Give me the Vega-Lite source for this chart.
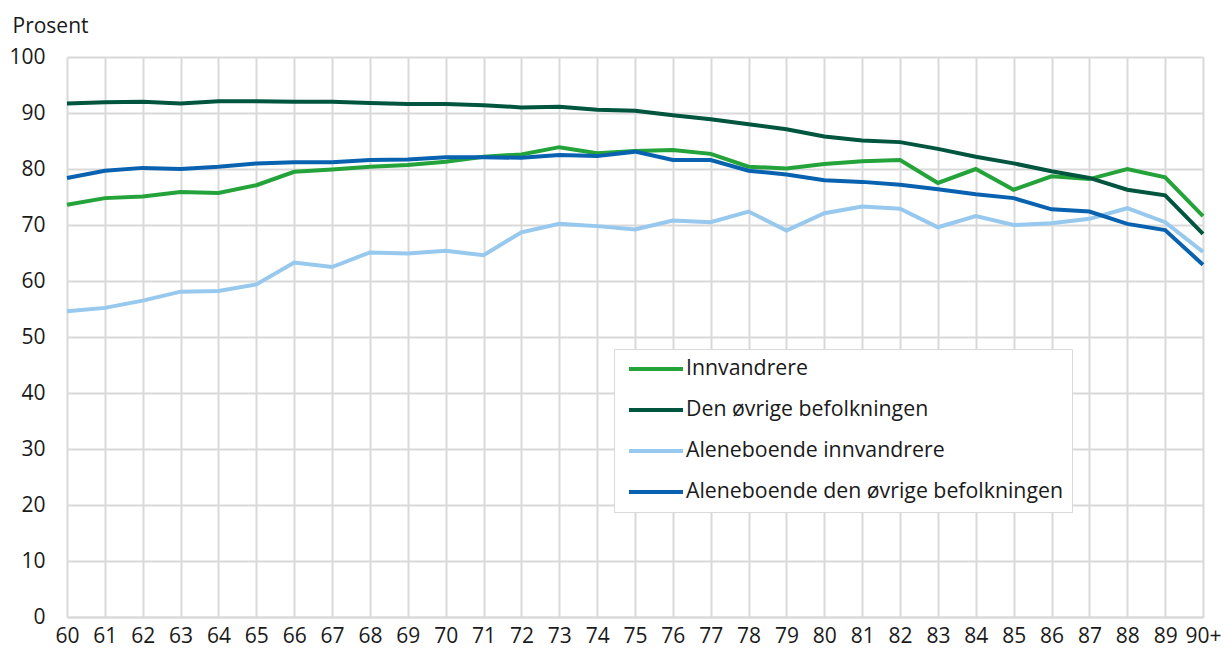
{
  "$schema": "https://vega.github.io/schema/vega-lite/v6.json",
  "autosize": {"type": "none"},
  "padding": {"left": 67, "top": 57, "right": 22, "bottom": 33},
  "width": 1136,
  "height": 560,
  "background": "white",
  "config": {
    "font": "Open Sans",
    "view": {"stroke": null},
    "axis": {"labelFont": "Open Sans", "titleFont": "Open Sans", "labelColor": "#1a1a1a", "titleColor": "#1a1a1a"},
    "legend": {"labelFont": "Open Sans", "labelColor": "#1a1a1a"}
  },
  "datasets": {
    "d": [
      {"alder":"60","gruppe":"Innvandrere","prosent":73.6},
      {"alder":"61","gruppe":"Innvandrere","prosent":74.8},
      {"alder":"62","gruppe":"Innvandrere","prosent":75.1},
      {"alder":"63","gruppe":"Innvandrere","prosent":75.9},
      {"alder":"64","gruppe":"Innvandrere","prosent":75.7},
      {"alder":"65","gruppe":"Innvandrere","prosent":77.1},
      {"alder":"66","gruppe":"Innvandrere","prosent":79.5},
      {"alder":"67","gruppe":"Innvandrere","prosent":79.9},
      {"alder":"68","gruppe":"Innvandrere","prosent":80.4},
      {"alder":"69","gruppe":"Innvandrere","prosent":80.7},
      {"alder":"70","gruppe":"Innvandrere","prosent":81.3},
      {"alder":"71","gruppe":"Innvandrere","prosent":82.2},
      {"alder":"72","gruppe":"Innvandrere","prosent":82.6},
      {"alder":"73","gruppe":"Innvandrere","prosent":83.9},
      {"alder":"74","gruppe":"Innvandrere","prosent":82.8},
      {"alder":"75","gruppe":"Innvandrere","prosent":83.2},
      {"alder":"76","gruppe":"Innvandrere","prosent":83.4},
      {"alder":"77","gruppe":"Innvandrere","prosent":82.7},
      {"alder":"78","gruppe":"Innvandrere","prosent":80.4},
      {"alder":"79","gruppe":"Innvandrere","prosent":80.1},
      {"alder":"80","gruppe":"Innvandrere","prosent":80.9},
      {"alder":"81","gruppe":"Innvandrere","prosent":81.4},
      {"alder":"82","gruppe":"Innvandrere","prosent":81.6},
      {"alder":"83","gruppe":"Innvandrere","prosent":77.5},
      {"alder":"84","gruppe":"Innvandrere","prosent":80.0},
      {"alder":"85","gruppe":"Innvandrere","prosent":76.3},
      {"alder":"86","gruppe":"Innvandrere","prosent":78.7},
      {"alder":"87","gruppe":"Innvandrere","prosent":78.2},
      {"alder":"88","gruppe":"Innvandrere","prosent":80.0},
      {"alder":"89","gruppe":"Innvandrere","prosent":78.5},
      {"alder":"90+","gruppe":"Innvandrere","prosent":71.6},
      {"alder":"60","gruppe":"Den øvrige befolkningen","prosent":91.7},
      {"alder":"61","gruppe":"Den øvrige befolkningen","prosent":91.9},
      {"alder":"62","gruppe":"Den øvrige befolkningen","prosent":92.0},
      {"alder":"63","gruppe":"Den øvrige befolkningen","prosent":91.7},
      {"alder":"64","gruppe":"Den øvrige befolkningen","prosent":92.1},
      {"alder":"65","gruppe":"Den øvrige befolkningen","prosent":92.1},
      {"alder":"66","gruppe":"Den øvrige befolkningen","prosent":92.0},
      {"alder":"67","gruppe":"Den øvrige befolkningen","prosent":92.0},
      {"alder":"68","gruppe":"Den øvrige befolkningen","prosent":91.8},
      {"alder":"69","gruppe":"Den øvrige befolkningen","prosent":91.6},
      {"alder":"70","gruppe":"Den øvrige befolkningen","prosent":91.6},
      {"alder":"71","gruppe":"Den øvrige befolkningen","prosent":91.4},
      {"alder":"72","gruppe":"Den øvrige befolkningen","prosent":91.0},
      {"alder":"73","gruppe":"Den øvrige befolkningen","prosent":91.1},
      {"alder":"74","gruppe":"Den øvrige befolkningen","prosent":90.6},
      {"alder":"75","gruppe":"Den øvrige befolkningen","prosent":90.4},
      {"alder":"76","gruppe":"Den øvrige befolkningen","prosent":89.6},
      {"alder":"77","gruppe":"Den øvrige befolkningen","prosent":88.9},
      {"alder":"78","gruppe":"Den øvrige befolkningen","prosent":88.0},
      {"alder":"79","gruppe":"Den øvrige befolkningen","prosent":87.1},
      {"alder":"80","gruppe":"Den øvrige befolkningen","prosent":85.8},
      {"alder":"81","gruppe":"Den øvrige befolkningen","prosent":85.1},
      {"alder":"82","gruppe":"Den øvrige befolkningen","prosent":84.8},
      {"alder":"83","gruppe":"Den øvrige befolkningen","prosent":83.6},
      {"alder":"84","gruppe":"Den øvrige befolkningen","prosent":82.2},
      {"alder":"85","gruppe":"Den øvrige befolkningen","prosent":81.0},
      {"alder":"86","gruppe":"Den øvrige befolkningen","prosent":79.6},
      {"alder":"87","gruppe":"Den øvrige befolkningen","prosent":78.4},
      {"alder":"88","gruppe":"Den øvrige befolkningen","prosent":76.3},
      {"alder":"89","gruppe":"Den øvrige befolkningen","prosent":75.3},
      {"alder":"90+","gruppe":"Den øvrige befolkningen","prosent":68.4},
      {"alder":"60","gruppe":"Aleneboende innvandrere","prosent":54.6},
      {"alder":"61","gruppe":"Aleneboende innvandrere","prosent":55.2},
      {"alder":"62","gruppe":"Aleneboende innvandrere","prosent":56.5},
      {"alder":"63","gruppe":"Aleneboende innvandrere","prosent":58.1},
      {"alder":"64","gruppe":"Aleneboende innvandrere","prosent":58.2},
      {"alder":"65","gruppe":"Aleneboende innvandrere","prosent":59.4},
      {"alder":"66","gruppe":"Aleneboende innvandrere","prosent":63.3},
      {"alder":"67","gruppe":"Aleneboende innvandrere","prosent":62.5},
      {"alder":"68","gruppe":"Aleneboende innvandrere","prosent":65.1},
      {"alder":"69","gruppe":"Aleneboende innvandrere","prosent":64.9},
      {"alder":"70","gruppe":"Aleneboende innvandrere","prosent":65.4},
      {"alder":"71","gruppe":"Aleneboende innvandrere","prosent":64.6},
      {"alder":"72","gruppe":"Aleneboende innvandrere","prosent":68.7},
      {"alder":"73","gruppe":"Aleneboende innvandrere","prosent":70.2},
      {"alder":"74","gruppe":"Aleneboende innvandrere","prosent":69.8},
      {"alder":"75","gruppe":"Aleneboende innvandrere","prosent":69.2},
      {"alder":"76","gruppe":"Aleneboende innvandrere","prosent":70.8},
      {"alder":"77","gruppe":"Aleneboende innvandrere","prosent":70.5},
      {"alder":"78","gruppe":"Aleneboende innvandrere","prosent":72.4},
      {"alder":"79","gruppe":"Aleneboende innvandrere","prosent":69.0},
      {"alder":"80","gruppe":"Aleneboende innvandrere","prosent":72.1},
      {"alder":"81","gruppe":"Aleneboende innvandrere","prosent":73.3},
      {"alder":"82","gruppe":"Aleneboende innvandrere","prosent":72.9},
      {"alder":"83","gruppe":"Aleneboende innvandrere","prosent":69.6},
      {"alder":"84","gruppe":"Aleneboende innvandrere","prosent":71.6},
      {"alder":"85","gruppe":"Aleneboende innvandrere","prosent":70.0},
      {"alder":"86","gruppe":"Aleneboende innvandrere","prosent":70.3},
      {"alder":"87","gruppe":"Aleneboende innvandrere","prosent":71.1},
      {"alder":"88","gruppe":"Aleneboende innvandrere","prosent":73.0},
      {"alder":"89","gruppe":"Aleneboende innvandrere","prosent":70.5},
      {"alder":"90+","gruppe":"Aleneboende innvandrere","prosent":65.2},
      {"alder":"60","gruppe":"Aleneboende den øvrige befolkningen","prosent":78.4},
      {"alder":"61","gruppe":"Aleneboende den øvrige befolkningen","prosent":79.7},
      {"alder":"62","gruppe":"Aleneboende den øvrige befolkningen","prosent":80.2},
      {"alder":"63","gruppe":"Aleneboende den øvrige befolkningen","prosent":80.0},
      {"alder":"64","gruppe":"Aleneboende den øvrige befolkningen","prosent":80.4},
      {"alder":"65","gruppe":"Aleneboende den øvrige befolkningen","prosent":81.0},
      {"alder":"66","gruppe":"Aleneboende den øvrige befolkningen","prosent":81.2},
      {"alder":"67","gruppe":"Aleneboende den øvrige befolkningen","prosent":81.2},
      {"alder":"68","gruppe":"Aleneboende den øvrige befolkningen","prosent":81.6},
      {"alder":"69","gruppe":"Aleneboende den øvrige befolkningen","prosent":81.7},
      {"alder":"70","gruppe":"Aleneboende den øvrige befolkningen","prosent":82.1},
      {"alder":"71","gruppe":"Aleneboende den øvrige befolkningen","prosent":82.1},
      {"alder":"72","gruppe":"Aleneboende den øvrige befolkningen","prosent":82.0},
      {"alder":"73","gruppe":"Aleneboende den øvrige befolkningen","prosent":82.5},
      {"alder":"74","gruppe":"Aleneboende den øvrige befolkningen","prosent":82.3},
      {"alder":"75","gruppe":"Aleneboende den øvrige befolkningen","prosent":83.1},
      {"alder":"76","gruppe":"Aleneboende den øvrige befolkningen","prosent":81.6},
      {"alder":"77","gruppe":"Aleneboende den øvrige befolkningen","prosent":81.6},
      {"alder":"78","gruppe":"Aleneboende den øvrige befolkningen","prosent":79.7},
      {"alder":"79","gruppe":"Aleneboende den øvrige befolkningen","prosent":79.0},
      {"alder":"80","gruppe":"Aleneboende den øvrige befolkningen","prosent":78.0},
      {"alder":"81","gruppe":"Aleneboende den øvrige befolkningen","prosent":77.7},
      {"alder":"82","gruppe":"Aleneboende den øvrige befolkningen","prosent":77.2},
      {"alder":"83","gruppe":"Aleneboende den øvrige befolkningen","prosent":76.4},
      {"alder":"84","gruppe":"Aleneboende den øvrige befolkningen","prosent":75.5},
      {"alder":"85","gruppe":"Aleneboende den øvrige befolkningen","prosent":74.8},
      {"alder":"86","gruppe":"Aleneboende den øvrige befolkningen","prosent":72.8},
      {"alder":"87","gruppe":"Aleneboende den øvrige befolkningen","prosent":72.4},
      {"alder":"88","gruppe":"Aleneboende den øvrige befolkningen","prosent":70.2},
      {"alder":"89","gruppe":"Aleneboende den øvrige befolkningen","prosent":69.1},
      {"alder":"90+","gruppe":"Aleneboende den øvrige befolkningen","prosent":62.9}
    ]
  },
  "data": {"name": "d"},
  "mark": {"type": "line", "strokeWidth": 4, "strokeJoin": "miter"},
  "encoding": {
    "x": {
      "field": "alder",
      "type": "ordinal",
      "scale": {"type": "point", "padding": 0, "domain": ["60","61","62","63","64","65","66","67","68","69","70","71","72","73","74","75","76","77","78","79","80","81","82","83","84","85","86","87","88","89","90+"]},
      "axis": {
        "title": null,
        "labelAngle": 0,
        "labelFontSize": 21,
        "labelPadding": 8,
        "ticks": false,
        "grid": true,
        "gridColor": "#d9d9d9",
        "gridWidth": 2,
        "domainColor": "#d9d9d9",
        "domainWidth": 2,
        "labelOverlap": false
      }
    },
    "y": {
      "field": "prosent",
      "type": "quantitative",
      "scale": {"domain": [0, 100], "nice": false},
      "axis": {
        "title": "Prosent",
        "titleAngle": 0,
        "titleAlign": "left",
        "titleBaseline": "alphabetic",
        "titleX": -55,
        "titleY": -25,
        "titleFontSize": 21,
        "titleFontWeight": "normal",
        "values": [0,10,20,30,40,50,60,70,80,90,100],
        "labelFontSize": 21,
        "labelPadding": 22,
        "ticks": false,
        "domain": false,
        "grid": true,
        "gridColor": "#d9d9d9",
        "gridWidth": 2
      }
    },
    "color": {
      "field": "gruppe",
      "type": "nominal",
      "scale": {
        "domain": ["Innvandrere", "Den øvrige befolkningen", "Aleneboende innvandrere", "Aleneboende den øvrige befolkningen"],
        "range": ["#23a339", "#00553f", "#97c8ee", "#0862b0"]
      },
      "legend": {
        "title": null,
        "orient": "none",
        "legendX": 547,
        "legendY": 292,
        "fillColor": "white",
        "strokeColor": "#d9d9d9",
        "padding": 9,
        "symbolType": "M-0.556,0H5.444",
        "symbolSize": 324,
        "symbolStrokeWidth": 4,
        "labelFontSize": 21.3,
        "labelOffset": 41,
        "rowPadding": 19,
        "labelLimit": 600
      }
    }
  }
}
